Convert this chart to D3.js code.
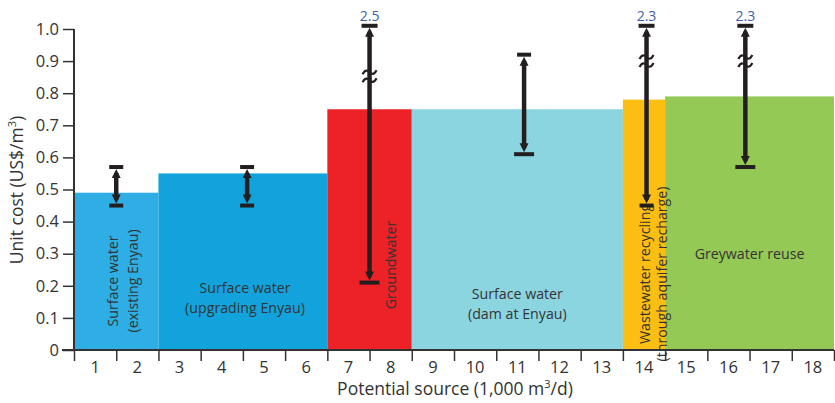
<!DOCTYPE html>
<html><head><meta charset="utf-8">
<script src="https://cdn.jsdelivr.net/npm/d3@7"></script>
<style>
html,body{margin:0;padding:0;background:#fff;}
svg{display:block;font-family:"Open Sans",sans-serif;}
</style></head>
<body><svg id="chart" width="835" height="403"></svg>
<script>
// ---- data ----
const categories = [
  ["Surface water", "(existing Enyau)"],
  ["Surface water", "(upgrading Enyau)"],
  ["Groundwater"],
  ["Surface water", "(dam at Enyau)"],
  ["Wastewater recycling", "(through aquifer recharge)"],
  ["Greywater reuse"]
];
const volumeStart = [0, 2, 6, 8, 13, 14];
const volumeEnd   = [2, 6, 8, 13, 14, 18];
const unitCost    = [0.49, 0.55, 0.75, 0.75, 0.78, 0.79];
const rangeAt     = [1, 4.1, 7, 10.66, 13.56, 15.9];
const rangeLow    = [0.45, 0.45, 0.21, 0.61, 0.45, 0.57];
const rangeHigh   = [0.57, 0.57, 2.5, 0.92, 2.3, 2.3];
const breakAt     = [null, null, 0.853, null, 0.9, 0.9];
const barColors   = ["#2eaee4", "#12a3dc", "#ec2227", "#8bd5e1", "#fdbe14", "#94c955"];
const yTicks = [0, 0.1, 0.2, 0.3, 0.4, 0.5, 0.6, 0.7, 0.8, 0.9, 1.0];
const xTickLabels = d3.range(1, 19);
const verticalLabel = [true, false, true, false, true, false];

// ---- layout ----
const svg = d3.select("#chart");
const x = d3.scaleLinear().domain([0, 18]).range([74, 834]);
const y = d3.scaleLinear().domain([0, 1]).range([350, 29]);
const axisColor = "#333";
const textColor = "#333";

const data = categories.map((c, i) => ({
  label: c, x0: volumeStart[i], x1: volumeEnd[i], v: unitCost[i],
  ex: rangeAt[i], lo: rangeLow[i], hi: rangeHigh[i], brk: breakAt[i],
  color: barColors[i], vert: verticalLabel[i]
}));

// bars
svg.append("g").selectAll("rect").data(data).join("rect")
  .attr("x", d => x(d.x0)).attr("width", d => x(d.x1) - x(d.x0))
  .attr("y", d => y(d.v)).attr("height", d => y(0) - y(d.v))
  .attr("fill", d => d.color);

// bar labels
const lblG = svg.append("g").attr("fill", textColor).attr("font-size", 14.2);
const lblPos = [
  {cx: 1.15, cy: 281, gap: 20}, {cx: 4.05, cy: 303, gap: 19.5}, {cx: 7.5, cy: 265, gap: 17},
  {cx: 13.72, cy: 274, gap: 17}, {cx: 16, cy: 259, gap: 17}
];
lblPos.splice(3, 0, {cx: 10.5, cy: 309, gap: 19.5});
data.forEach((d, i) => {
  const p = lblPos[i];
  const cx = x(p.cx);
  const n = d.label.length;
  if (d.vert) {
    const t = lblG.append("text").attr("text-anchor", "middle")
      .attr("transform", `translate(${cx},${p.cy}) rotate(-90)`);
    d.label.forEach((s, k) => {
      t.append("tspan").attr("x", 0).attr("y", (k - (n - 1) / 2) * p.gap + 5).text(s);
    });
  } else {
    const t = lblG.append("text").attr("text-anchor", "middle");
    d.label.forEach((s, k) => {
      t.append("tspan").attr("x", cx).attr("y", p.cy + (k - (n - 1) / 2) * p.gap).text(s);
    });
  }
});

// error ranges
const ebG = svg.append("g");
const barCol = "#231f20";
const topClip = 1.01;
data.forEach(d => {
  const cx = x(d.ex);
  const yTop = y(Math.min(d.hi, topClip));
  const yBot = y(d.lo);
  ebG.append("line").attr("x1", cx).attr("x2", cx)
    .attr("y1", yTop + 6).attr("y2", yBot - 6)
    .attr("stroke", barCol).attr("stroke-width", 4.5);
  ebG.append("path").attr("d", `M${cx},${yTop + 2} L${cx - 4.5},${yTop + 11} L${cx + 4.5},${yTop + 11} Z`).attr("fill", barCol);
  ebG.append("path").attr("d", `M${cx},${yBot - 2} L${cx - 4.5},${yBot - 11} L${cx + 4.5},${yBot - 11} Z`).attr("fill", barCol);
  const capW = d.hi > 1 ? 16 : 14;
  ebG.append("rect").attr("x", cx - capW / 2).attr("width", capW)
    .attr("y", yTop - 2).attr("height", 4).attr("fill", barCol);
  const capWb = (d.lo < 0.3 || d.lo > 0.55) ? 20 : 14;
  ebG.append("rect").attr("x", cx - capWb / 2).attr("width", capWb)
    .attr("y", yBot - 2).attr("height", 4).attr("fill", barCol);
  if (d.hi > 1) {
    ebG.append("text").attr("x", cx).attr("y", yTop - 5)
      .attr("text-anchor", "middle").attr("font-size", 14)
      .attr("fill", "#3f5fae").text(d.hi.toFixed(1));
  }
  if (d.brk != null) {
    const yb = y(d.brk);
    [-4, 4].forEach(off => {
      const yy = yb + off;
      ebG.append("path")
        .attr("d", `M${cx - 7},${yy + 2} C${cx - 4},${yy - 4} ${cx - 1},${yy - 1} ${cx},${yy} S${cx + 4},${yy + 4} ${cx + 7},${yy - 2}`)
        .attr("fill", "none").attr("stroke", barCol).attr("stroke-width", 2.2);
    });
  }
});

// y axis
const yAxis = d3.axisLeft(y).tickValues(yTicks)
  .tickFormat(d => d === 0 ? "0" : d3.format(".1f")(d))
  .tickSize(11).tickPadding(4);
const yg = svg.append("g").attr("transform", "translate(74,0)").call(yAxis);
yg.select(".domain").attr("stroke", axisColor).attr("stroke-width", 2)
  .attr("d", `M0,${y(1)}V${y(0)}`);
yg.selectAll(".tick line").attr("stroke", axisColor).attr("stroke-width", 1.5);
yg.selectAll(".tick text").attr("fill", textColor).attr("font-size", 16.5)
  .attr("font-family", "'Open Sans', sans-serif");

// x axis
const xAxis = d3.axisBottom(x).tickValues(d3.range(0, 19)).tickFormat("").tickSize(11);
const xg = svg.append("g").attr("transform", `translate(0,${y(0)})`).call(xAxis);
xg.select(".domain").attr("stroke", axisColor).attr("stroke-width", 2)
  .attr("d", `M${x(0) - 12},0H${x(18)}`);
xg.selectAll(".tick line").attr("stroke", axisColor).attr("stroke-width", 1.5);
xg.append("g").selectAll("text").data(xTickLabels).join("text")
  .attr("x", d => x(d - 0.5)).attr("y", 23)
  .attr("text-anchor", "middle").attr("fill", textColor)
  .attr("font-size", 16.5).attr("font-family", "'Open Sans', sans-serif")
  .text(d => d);

// axis titles
const xt = svg.append("text").attr("x", 455).attr("y", 395)
  .attr("text-anchor", "middle").attr("fill", textColor).attr("font-size", 17.5);
xt.append("tspan").text("Potential source (1,000 m");
xt.append("tspan").attr("dy", -7).attr("font-size", 11).text("3");
xt.append("tspan").attr("dy", 7).text("/d)");

const yt = svg.append("text").attr("transform", "translate(23,190) rotate(-90)")
  .attr("text-anchor", "middle").attr("fill", textColor).attr("font-size", 17.5);
yt.append("tspan").text("Unit cost (US$/m");
yt.append("tspan").attr("dy", -7).attr("font-size", 11).text("3");
yt.append("tspan").attr("dy", 7).text(")");
</script>
</body></html>
